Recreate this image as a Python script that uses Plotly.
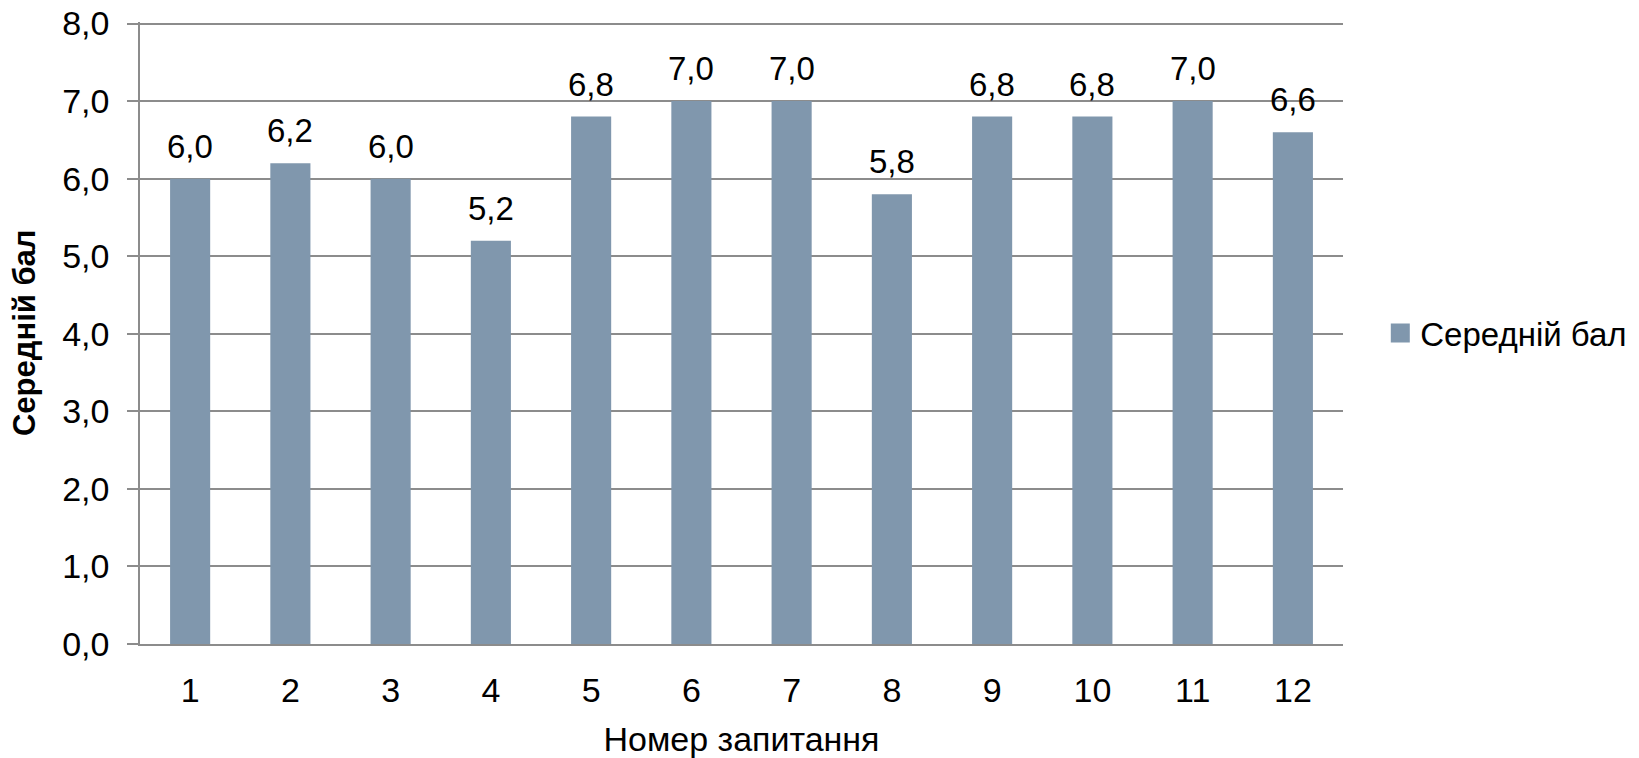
import plotly.graph_objects as go

categories = ["1", "2", "3", "4", "5", "6", "7", "8", "9", "10", "11", "12"]
values = [6.0, 6.2, 6.0, 5.2, 6.8, 7.0, 7.0, 5.8, 6.8, 6.8, 7.0, 6.6]
y_ticks = [0, 1, 2, 3, 4, 5, 6, 7, 8]
series_name = "Середній бал"
x_title = "Номер запитання"
y_title = "Середній бал"

BAR = "#8097AD"
GRID = "#8c8c8c"
FONT = "Liberation Sans, Arial, sans-serif"

fig = go.Figure()
fig.add_trace(go.Bar(
    x=categories, y=values, name=series_name, showlegend=False,
    marker=dict(color=BAR, line=dict(width=0)),
))
# legend entry with a larger square swatch
fig.add_trace(go.Scatter(
    x=[None], y=[None], mode="markers", name=series_name,
    marker=dict(symbol="square", size=16, color=BAR,
                line=dict(color=BAR, width=3)),
))

for i, v in enumerate(values):
    fig.add_annotation(
        x=i, y=v, text=f"{v:.1f}".replace(".", ","),
        showarrow=False, yanchor="bottom", yshift=12,
        font=dict(family=FONT, size=33, color="black"),
    )

# y-axis title placed as a rotated paper annotation
fig.add_annotation(
    xref="paper", yref="paper", x=-0.0964, y=0.5,
    xanchor="center", yanchor="middle", textangle=-90,
    text=f"<b>{y_title}</b>", showarrow=False,
    font=dict(family=FONT, size=31, color="black"),
)

fig.update_layout(
    width=1639, height=758,
    margin=dict(l=132, r=304, t=14, b=122),
    paper_bgcolor="white", plot_bgcolor="white",
    separators=", ",
    bargap=0.6,
    showlegend=True,
    legend=dict(x=1.031, y=0.5, xanchor="left", yanchor="middle",
                font=dict(family=FONT, size=33, color="black"),
                itemsizing="trace"),
    font=dict(family=FONT, size=33, color="black"),
)

fig.update_yaxes(
    range=[0, 8.02], tickvals=y_ticks, tickformat=".1f",
    automargin=False, ticklabeloverflow="allow",
    showgrid=True, gridcolor=GRID, gridwidth=1.5,
    showline=True, linecolor=GRID, linewidth=1.5,
    ticks="outside", ticklen=11, tickcolor=GRID, tickwidth=1.5,
    ticklabelstandoff=11,
    zeroline=False,
    tickfont=dict(family=FONT, size=34, color="black"),
)
fig.update_xaxes(
    automargin=False,
    showline=True, linecolor=GRID, linewidth=1.5,
    ticks="", ticklabelstandoff=15,
    tickfont=dict(family=FONT, size=34, color="black"),
    title=dict(text=x_title, standoff=20,
               font=dict(family=FONT, size=34, color="black")),
)

fig.write_html("out.html")
